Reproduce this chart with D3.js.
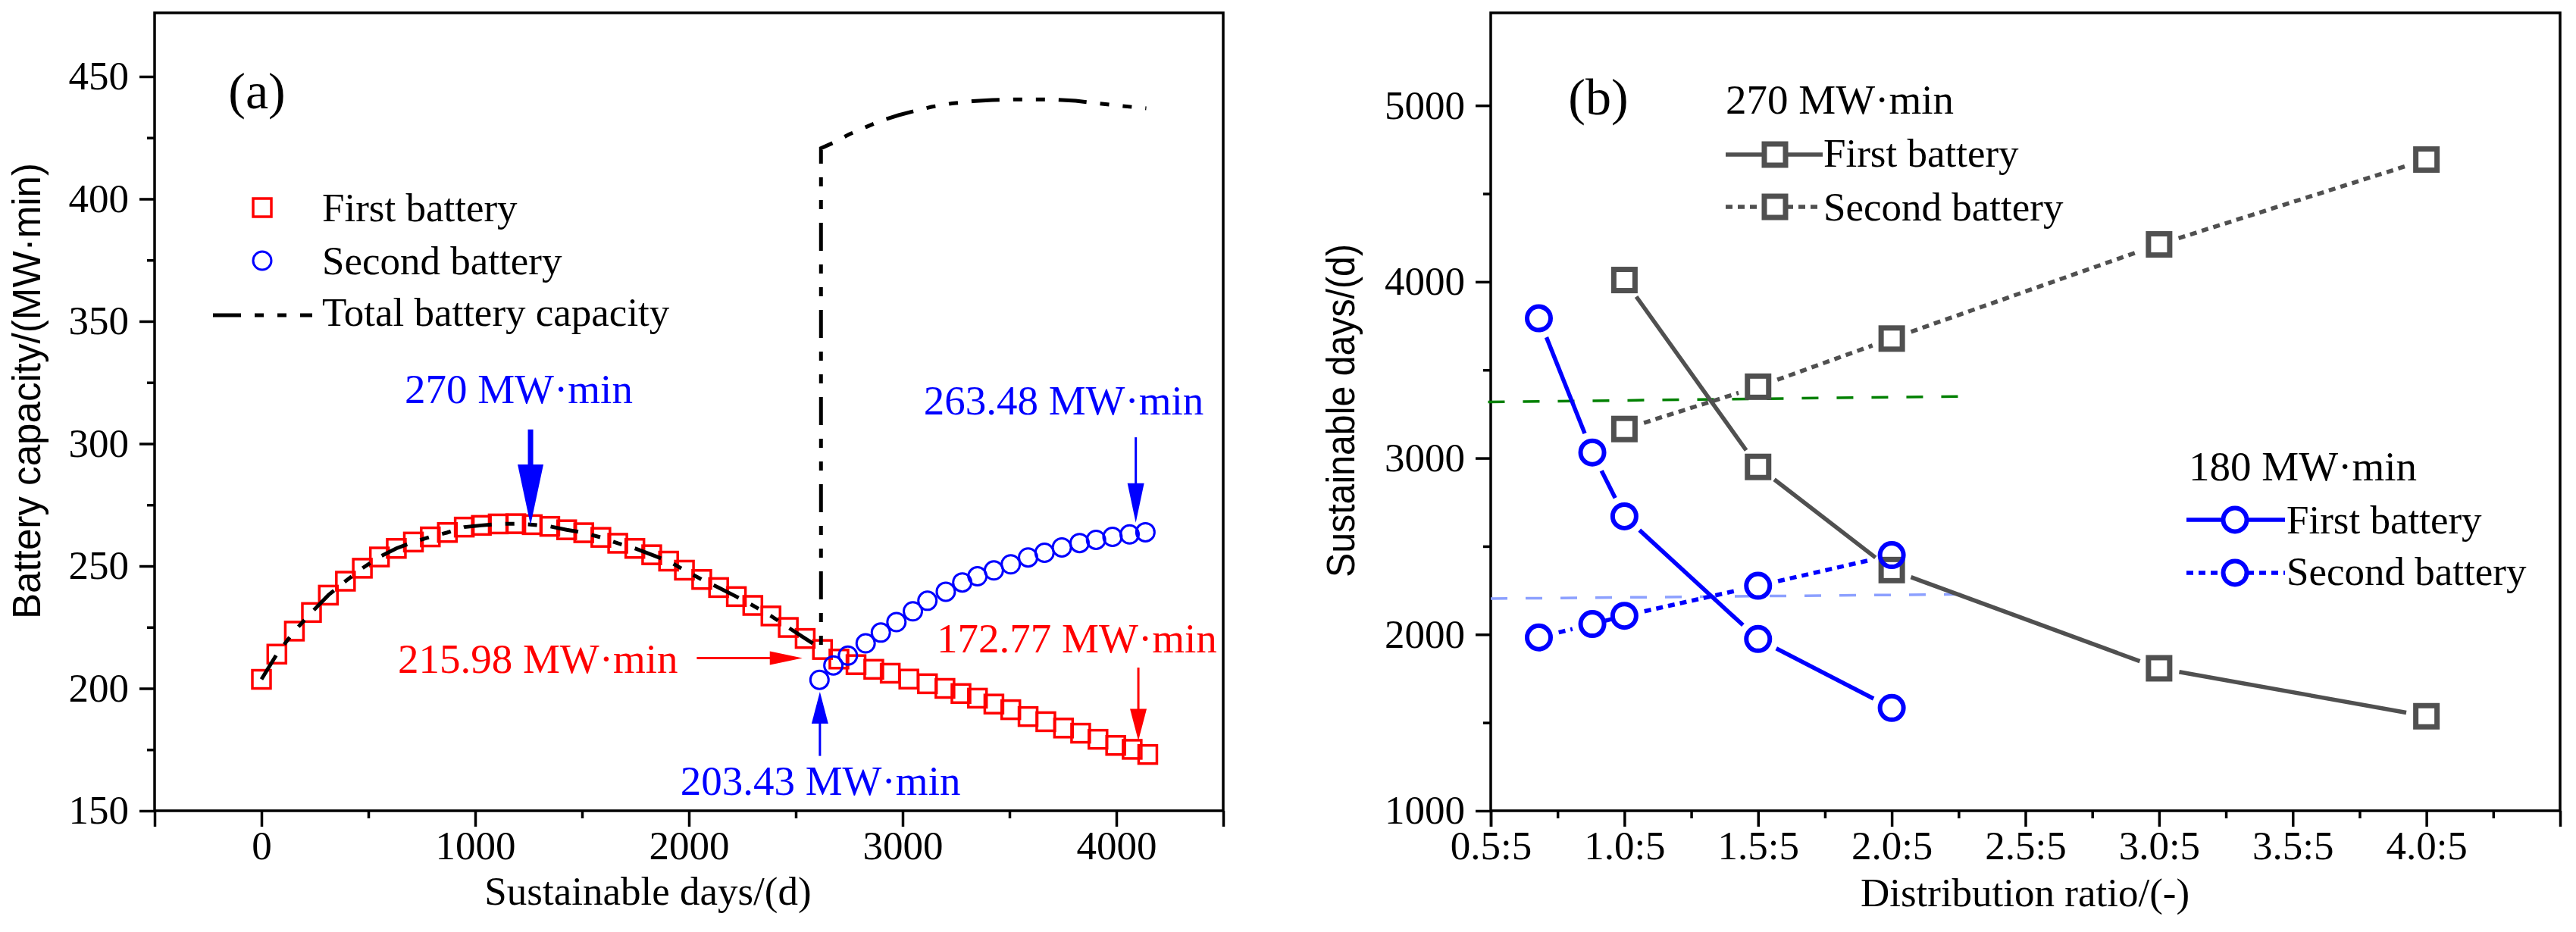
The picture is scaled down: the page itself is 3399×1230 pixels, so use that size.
<!DOCTYPE html>
<html>
<head>
<meta charset="utf-8">
<script src="https://cdn.jsdelivr.net/npm/d3@7"></script>
<style>
body { margin: 0; background: #fff; }
</style>
</head>
<body>
<svg id="chart" width="3399" height="1230"></svg>
<script>
// ---- panel (a) data ----
var firstDays = [0, 72, 154, 234, 313, 393, 472, 552, 631, 711, 790, 870, 949, 1029, 1108, 1190, 1267, 1349, 1428, 1508,
  1588, 1667, 1747, 1826, 1905, 1979, 2060, 2139, 2222, 2299, 2384, 2465, 2544, 2625, 2702, 2782, 2865, 2942, 3029,
  3116, 3198, 3273, 3350, 3427, 3506, 3587, 3670, 3753, 3833, 3914, 3997, 4074, 4147];
var firstValues = [203.7, 214.0, 223.4, 231.0, 238.1, 243.8, 249.1, 253.7, 257.2, 259.8, 261.9, 263.7, 265.9, 266.6, 267.2,
  267.3, 266.9, 266.2, 264.8, 263.6, 261.7, 259.3, 257.2, 254.6, 252.0, 248.3, 244.5, 241.2, 237.5, 233.9, 229.6, 224.9,
  220.4, 215.9, 212.0, 209.7, 207.8, 206.2, 203.8, 201.9, 200.0, 197.9, 196.0, 193.6, 191.3, 188.5, 186.4, 183.8, 181.7,
  179.2, 176.7, 175.1, 173.0];

var secondDays = [2611, 2676, 2744, 2827, 2898, 2971, 3048, 3116, 3202, 3279, 3350, 3427, 3506, 3587, 3664, 3745, 3828,
  3905, 3982, 4062, 4136];
var secondValues = [203.5, 209.4, 213.4, 218.4, 222.8, 227.1, 231.5, 235.8, 239.5, 243.3, 245.8, 248.2, 250.7, 253.5,
  255.4, 257.6, 259.4, 260.7, 261.9, 262.9, 263.8];

var totalDays = [0, 72, 154, 234, 313, 393, 472, 552, 631, 711, 790, 870, 949, 1029, 1108, 1190, 1267, 1349, 1428, 1508,
  1588, 1667, 1747, 1826, 1905, 1979, 2060, 2139, 2222, 2299, 2384, 2465, 2544, 2618, 2618, 2672, 2750, 2827, 2900,
  2981, 3060, 3135, 3230, 3327, 3420, 3520, 3615, 3712, 3810, 3905, 4000, 4080, 4140];
var totalValues = [203.7, 214.0, 223.4, 231.0, 238.1, 243.8, 249.1, 253.7, 257.2, 259.8, 261.9, 263.7, 265.9, 266.6, 267.2,
  267.3, 266.9, 266.2, 264.8, 263.6, 261.7, 259.3, 257.2, 254.6, 252.0, 248.3, 244.5, 241.2, 237.5, 233.9, 229.6, 224.9,
  220.4, 216.2, 420.7, 422.8, 426.4, 429.3, 432.0, 434.2, 436.0, 437.6, 439.0, 439.9, 440.4, 440.6, 440.6, 440.6, 440.1,
  439.1, 438.2, 437.5, 437.0];

var xTicksA = [0, 1000, 2000, 3000, 4000];
var xLabelsA = ["0", "1000", "2000", "3000", "4000"];
var xMinorA = [500, 1500, 2500, 3500];
var yTicksA = [150, 200, 250, 300, 350, 400, 450];
var yLabelsA = ["150", "200", "250", "300", "350", "400", "450"];
var yMinorA = [175, 225, 275, 325, 375, 425];

// annotations: text, text start (day, value), arrow from (day, value) to (day, value)
var noteTexts = ["270 MW·min", "263.48 MW·min", "215.98 MW·min", "172.77 MW·min", "203.43 MW·min"];
var noteColors = ["#0000ff", "#0000ff", "#ff0000", "#ff0000", "#0000ff"];
var noteTextAt = [[670, 316.6], [3098, 311.8], [638, 206.3], [3160, 214.7], [1960, 156.5]];
var noteArrowFrom = [[1259, 305.8], [4091, 302.6], [2037, 212.4], [4103, 208.5], [2613, 172.4]];
var noteArrowTo = [[1259, 266.7], [4091, 267.7], [2531, 212.4], [4103, 178.6], [2613, 198.6]];

// ---- panel (b) data ----
var ratios270 = [1.0, 1.5, 2.0, 3.0, 4.0];
var first270 = [4010, 2950, 2365, 1808, 1536];
var second270 = [3165, 3405, 3678, 4212, 4693];
var ratios180 = [0.68, 0.88, 1.0, 1.5, 2.0];
var first180 = [3793, 3032, 2670, 1974, 1583];
var second180 = [1983, 2059, 2106, 2276, 2450];

var greenRefX = [0.49, 2.25];
var greenRefY = [3318, 3350];
var blueRefX = [0.5, 2.27];
var blueRefY = [2203, 2228];

var xTicksB = [0.5, 1.0, 1.5, 2.0, 2.5, 3.0, 3.5, 4.0];
var xLabelsB = ["0.5:5", "1.0:5", "1.5:5", "2.0:5", "2.5:5", "3.0:5", "3.5:5", "4.0:5"];
var xMinorB = [0.75, 1.25, 1.75, 2.25, 2.75, 3.25, 3.75, 4.25];
var yTicksB = [1000, 2000, 3000, 4000, 5000];
var yLabelsB = ["1000", "2000", "3000", "4000", "5000"];
var yMinorB = [1500, 2500, 3500, 4500];

var SERIF = "Liberation Serif, Times New Roman, serif";
var SANS = "Liberation Sans, Arial, sans-serif";
var GRAY = "#505050";

var svg = d3.select("#chart");

var xA = d3.scaleLinear().domain([-500, 4500]).range([204, 1614]);
var yA = d3.scaleLinear().domain([150, 476]).range([1070, 17]);
var xB = d3.scaleLinear().domain([0.5, 4.5]).range([1967, 3378]);
var yB = d3.scaleLinear().domain([1000, 5525]).range([1070, 17]);

function styleAxis(g) {
	g.select(".domain").remove();
	g.selectAll(".tick line").attr("stroke", "#000").attr("stroke-width", 3.5);
	g.selectAll("text").attr("fill", "#000");
	g.attr("font-size", 53).attr("font-family", SERIF);
}

function drawAxes(x, y, xTicks, xLabels, xMinor, yTicks, yLabels, yMinor) {
	var left = x.range()[0], right = x.range()[1], bottom = y.range()[0], top = y.range()[1];
	var g = svg.append("g");

	g.append("g").attr("transform", "translate(0," + bottom + ")")
		.call(d3.axisBottom(x).tickValues(xTicks).tickSize(21).tickPadding(5).tickSizeOuter(0)
			.tickFormat(function(d, i) { return xLabels[i]; }))
		.call(styleAxis);
	g.append("g").attr("transform", "translate(0," + bottom + ")")
		.call(d3.axisBottom(x).tickValues(x.domain()).tickSize(21).tickSizeOuter(0).tickFormat(""))
		.call(styleAxis);
	g.append("g").attr("transform", "translate(0," + bottom + ")")
		.call(d3.axisBottom(x).tickValues(xMinor).tickSize(10).tickSizeOuter(0).tickFormat(""))
		.call(styleAxis);

	g.append("g").attr("transform", "translate(" + left + ",0)")
		.call(d3.axisLeft(y).tickValues(yTicks).tickSize(20).tickPadding(14).tickSizeOuter(0)
			.tickFormat(function(d, i) { return yLabels[i]; }))
		.call(styleAxis);
	g.append("g").attr("transform", "translate(" + left + ",0)")
		.call(d3.axisLeft(y).tickValues(yMinor).tickSize(10).tickSizeOuter(0).tickFormat(""))
		.call(styleAxis);

	g.append("rect")
		.attr("x", left).attr("y", top)
		.attr("width", right - left).attr("height", bottom - top)
		.attr("fill", "none").attr("stroke", "#000").attr("stroke-width", 3.5);
}

function squareAt(g, cx, cy, size, color, sw, fill) {
	g.append("rect")
		.attr("x", cx - size / 2).attr("y", cy - size / 2)
		.attr("width", size).attr("height", size)
		.attr("fill", fill).attr("stroke", color).attr("stroke-width", sw);
}

function circleAt(g, cx, cy, r, color, sw, fill) {
	g.append("circle")
		.attr("cx", cx).attr("cy", cy).attr("r", r)
		.attr("fill", fill).attr("stroke", color).attr("stroke-width", sw);
}

function arrow(g, p1, p2, color, shaft, headW, headL) {
	var dx = p2[0] - p1[0], dy = p2[1] - p1[1];
	var L = Math.hypot(dx, dy), ux = dx / L, uy = dy / L;
	var bx = p2[0] - ux * headL, by = p2[1] - uy * headL;
	g.append("line")
		.attr("x1", p1[0]).attr("y1", p1[1]).attr("x2", bx + ux * 2).attr("y2", by + uy * 2)
		.attr("stroke", color).attr("stroke-width", shaft);
	g.append("polygon")
		.attr("points", [
			[bx - uy * headW / 2, by + ux * headW / 2],
			[p2[0], p2[1]],
			[bx + uy * headW / 2, by - ux * headW / 2]
		].map(function(p) { return p.join(","); }).join(" "))
		.attr("fill", color);
}

// ===================== panel (a) =====================
drawAxes(xA, yA, xTicksA, xLabelsA, xMinorA, yTicksA, yLabelsA, yMinorA);

var ga = svg.append("g");

firstDays.forEach(function(d, i) {
	squareAt(ga, xA(d), yA(firstValues[i]), 24, "#ff0000", 3.5, "none");
});
secondDays.forEach(function(d, i) {
	circleAt(ga, xA(d), yA(secondValues[i]), 12, "#0000ff", 3, "none");
});

var totalLine = d3.line()
	.x(function(d) { return xA(d[0]); })
	.y(function(d) { return yA(d[1]); });

ga.append("path")
	.datum(d3.zip(totalDays, totalValues))
	.attr("d", totalLine)
	.attr("fill", "none")
	.attr("stroke", "#000")
	.attr("stroke-width", 5)
	.attr("stroke-dasharray", "37,18,12,18,12,18");

// annotations
var arrowStyle = [[7, 34, 80], [3, 22, 52], [3, 18, 43], [3, 22, 42], [3, 22, 42]];
noteTexts.forEach(function(t, i) {
	ga.append("text")
		.attr("x", xA(noteTextAt[i][0])).attr("y", yA(noteTextAt[i][1]))
		.attr("font-family", SERIF).attr("font-size", 55)
		.attr("fill", noteColors[i])
		.text(t);
	arrow(ga,
		[xA(noteArrowFrom[i][0]), yA(noteArrowFrom[i][1])],
		[xA(noteArrowTo[i][0]), yA(noteArrowTo[i][1])],
		noteColors[i], arrowStyle[i][0], arrowStyle[i][1], arrowStyle[i][2]);
});

// legend (a)
var la = svg.append("g").attr("font-family", SERIF).attr("font-size", 53);
squareAt(la, 346, 274, 24, "#ff0000", 3.5, "none");
la.append("text").attr("x", 425).attr("y", 292).text("First battery");
circleAt(la, 346, 344, 12, "#0000ff", 3, "none");
la.append("text").attr("x", 425).attr("y", 362).text("Second battery");
la.append("line").attr("x1", 281).attr("x2", 412).attr("y1", 416).attr("y2", 416)
	.attr("stroke", "#000").attr("stroke-width", 5).attr("stroke-dasharray", "37,18,12,18,12,18");
la.append("text").attr("x", 425).attr("y", 430).text("Total battery capacity");

svg.append("text").attr("x", 339).attr("y", 143).attr("text-anchor", "middle")
	.attr("font-family", SERIF).attr("font-size", 68).text("(a)");

svg.append("text").attr("x", 855).attr("y", 1194).attr("text-anchor", "middle")
	.attr("font-family", SERIF).attr("font-size", 53).text("Sustainable days/(d)");

svg.append("text")
	.attr("transform", "translate(53,516)rotate(-90)")
	.attr("text-anchor", "middle")
	.attr("font-family", SANS).attr("font-size", 51)
	.attr("textLength", 602).attr("lengthAdjust", "spacingAndGlyphs")
	.text("Battery capacity/(MW·min)");

// ===================== panel (b) =====================
drawAxes(xB, yB, xTicksB, xLabelsB, xMinorB, yTicksB, yLabelsB, yMinorB);

var gb = svg.append("g");

gb.append("line")
	.attr("x1", xB(greenRefX[0])).attr("y1", yB(greenRefY[0]))
	.attr("x2", xB(greenRefX[1])).attr("y2", yB(greenRefY[1]))
	.attr("stroke", "#008000").attr("stroke-width", 3.5).attr("stroke-dasharray", "22,24");
gb.append("line")
	.attr("x1", xB(blueRefX[0])).attr("y1", yB(blueRefY[0]))
	.attr("x2", xB(blueRefX[1])).attr("y2", yB(blueRefY[1]))
	.attr("stroke", "#8ca0ff").attr("stroke-width", 3.5).attr("stroke-dasharray", "22,24");

function gappedLine(g, xs, ys, color, dash) {
	for (var i = 0; i < xs.length - 1; i++) {
		var p1 = [xB(xs[i]), yB(ys[i])], p2 = [xB(xs[i + 1]), yB(ys[i + 1])];
		var dx = p2[0] - p1[0], dy = p2[1] - p1[1];
		var L = Math.hypot(dx, dy), ux = dx / L, uy = dy / L, gap = 27;
		g.append("line")
			.attr("x1", p1[0] + ux * gap).attr("y1", p1[1] + uy * gap)
			.attr("x2", p2[0] - ux * gap).attr("y2", p2[1] - uy * gap)
			.attr("stroke", color).attr("stroke-width", 5.5)
			.attr("stroke-dasharray", dash);
	}
}

gappedLine(gb, ratios270, first270, GRAY, null);
gappedLine(gb, ratios270, second270, GRAY, "9,7");
ratios270.forEach(function(r, i) {
	squareAt(gb, xB(r), yB(first270[i]), 28, GRAY, 7, "none");
	squareAt(gb, xB(r), yB(second270[i]), 28, GRAY, 7, "none");
});

gappedLine(gb, ratios180, first180, "#0000ff", null);
gappedLine(gb, ratios180, second180, "#0000ff", "9,7");
ratios180.forEach(function(r, i) {
	circleAt(gb, xB(r), yB(first180[i]), 15.5, "#0000ff", 6, "none");
	circleAt(gb, xB(r), yB(second180[i]), 15.5, "#0000ff", 6, "none");
});

// legend (b)
var lb = svg.append("g").attr("font-family", SERIF).attr("font-size", 53);
lb.append("text").attr("x", 2277).attr("y", 150).attr("font-size", 55).text("270 MW·min");
lb.append("line").attr("x1", 2277).attr("x2", 2405).attr("y1", 204).attr("y2", 204)
	.attr("stroke", GRAY).attr("stroke-width", 5.5);
squareAt(lb, 2342, 204, 28, GRAY, 7, "#fff");
lb.append("text").attr("x", 2406).attr("y", 220).text("First battery");
lb.append("line").attr("x1", 2277).attr("x2", 2405).attr("y1", 273).attr("y2", 273)
	.attr("stroke", GRAY).attr("stroke-width", 5.5).attr("stroke-dasharray", "9,7");
squareAt(lb, 2342, 273, 28, GRAY, 7, "#fff");
lb.append("text").attr("x", 2406).attr("y", 291).text("Second battery");

lb.append("text").attr("x", 2888).attr("y", 634).attr("font-size", 55).text("180 MW·min");
lb.append("line").attr("x1", 2885).attr("x2", 3015).attr("y1", 686).attr("y2", 686)
	.attr("stroke", "#0000ff").attr("stroke-width", 5.5);
circleAt(lb, 2949, 686, 15.5, "#0000ff", 6, "#fff");
lb.append("text").attr("x", 3017).attr("y", 704).text("First battery");
lb.append("line").attr("x1", 2885).attr("x2", 3015).attr("y1", 756).attr("y2", 756)
	.attr("stroke", "#0000ff").attr("stroke-width", 5.5).attr("stroke-dasharray", "9,7");
circleAt(lb, 2949, 756, 15.5, "#0000ff", 6, "#fff");
lb.append("text").attr("x", 3017).attr("y", 772).text("Second battery");

svg.append("text").attr("x", 2109).attr("y", 151).attr("text-anchor", "middle")
	.attr("font-family", SERIF).attr("font-size", 68).text("(b)");

svg.append("text").attr("x", 2672).attr("y", 1196).attr("text-anchor", "middle")
	.attr("font-family", SERIF).attr("font-size", 53).text("Distribution ratio/(-)");

svg.append("text")
	.attr("transform", "translate(1787,542)rotate(-90)")
	.attr("text-anchor", "middle")
	.attr("font-family", SANS).attr("font-size", 51)
	.attr("textLength", 440).attr("lengthAdjust", "spacingAndGlyphs")
	.text("Sustainable days/(d)");
</script>
</body>
</html>
